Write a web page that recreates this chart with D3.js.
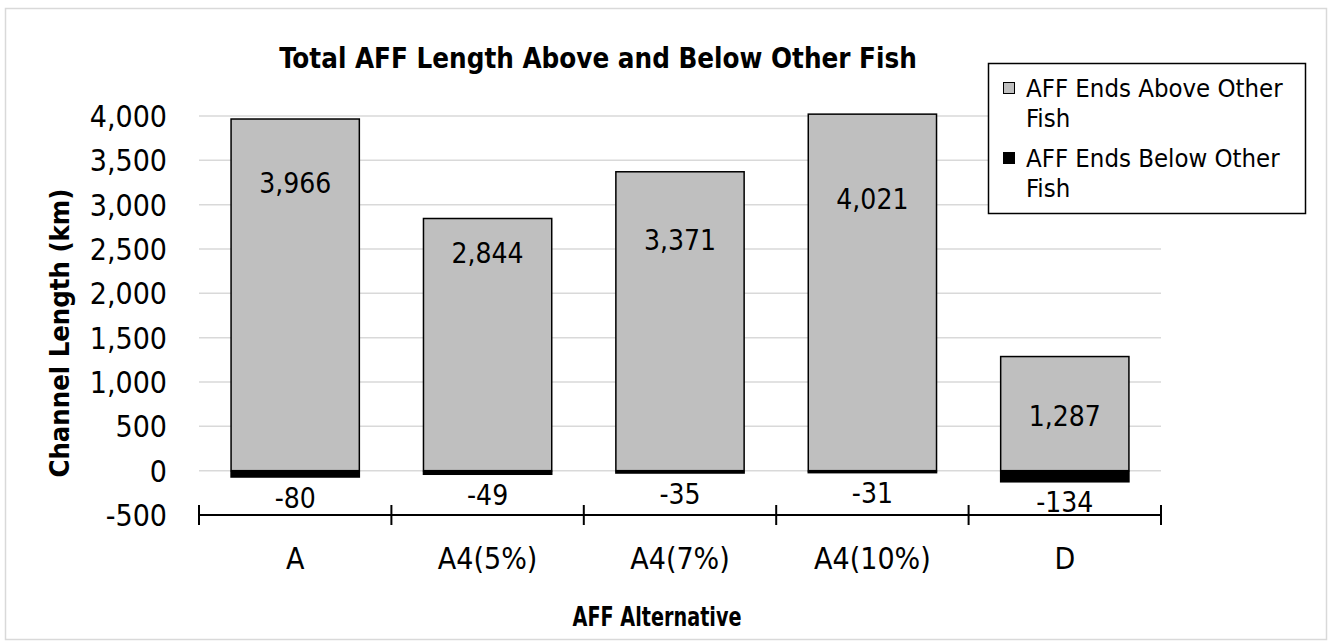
<!DOCTYPE html>
<html><head><meta charset="utf-8">
<script src="https://cdn.jsdelivr.net/npm/d3@7"></script>
<style>
body{margin:0;background:#fff}
text{font-family:"DejaVu Sans Condensed","DejaVu Sans",sans-serif;fill:#000}
</style></head>
<body><svg id="c" width="1329" height="642"></svg>
<script>
const categories = ["A", "A4(5%)", "A4(7%)", "A4(10%)", "D"];
const aboveValues = [3966, 2844, 3371, 4021, 1287];
const belowValues = [-80, -49, -35, -31, -134];
// where each positive data label sits, in axis units
const aboveLabelAt = [3240, 2450, 2600, 3060, 610];
const yTicks = [-500, 0, 500, 1000, 1500, 2000, 2500, 3000, 3500, 4000];
const seriesNames = ["AFF Ends Above Other Fish", "AFF Ends Below Other Fish"];
const titleText = "Total AFF Length Above and Below Other Fish";
const yTitle = "Channel Length (km)";
const xTitle = "AFF Alternative";

const svg = d3.select("#c");
const loc = d3.formatLocale({decimal: ".", thousands: ",", grouping: [3], currency: ["", ""], minus: "-"});
const fmt = loc.format(",");

svg.append("rect").attr("x", 5.5).attr("y", 8.5).attr("width", 1321).attr("height", 631)
  .attr("fill", "#fff").attr("stroke", "#d9d9d9").attr("stroke-width", 1.5);

const x = d3.scaleBand().domain(categories).range([199, 1161]).paddingInner(1/3).paddingOuter(1/6);
const y = d3.scaleLinear().domain([-500, 4000]).range([515, 116]);

// gridlines
svg.append("g").selectAll("line").data(yTicks.filter(t => t > -500)).join("line")
  .attr("x1", 199).attr("x2", 1161).attr("y1", d => y(d)).attr("y2", d => y(d))
  .attr("stroke", "#d9d9d9").attr("stroke-width", 1.5);

// y axis (labels only)
const yAxis = d3.axisLeft(y).tickValues(yTicks).tickFormat(fmt).tickSize(0).tickPadding(0);
const yg = svg.append("g").attr("transform", "translate(167,0)").call(yAxis);
yg.select(".domain").remove();
yg.selectAll("text").attr("font-size", 30).attr("font-family", null).attr("dy", "0.35em");

// bars above
svg.append("g").selectAll("rect").data(categories).join("rect")
  .attr("x", d => x(d)).attr("width", x.bandwidth())
  .attr("y", (d, i) => y(aboveValues[i])).attr("height", (d, i) => y(0) - y(aboveValues[i]))
  .attr("fill", "#bfbfbf").attr("stroke", "#000").attr("stroke-width", 1.5);
// bars below
svg.append("g").selectAll("rect").data(categories).join("rect")
  .attr("x", d => x(d) - 0.75).attr("width", x.bandwidth() + 1.5)
  .attr("y", y(0)).attr("height", (d, i) => y(belowValues[i]) - y(0))
  .attr("fill", "#000");

// data labels
svg.append("g").selectAll("text").data(categories).join("text")
  .attr("x", d => x(d) + x.bandwidth() / 2).attr("y", (d, i) => y(aboveLabelAt[i]))
  .attr("dy", "0.35em").attr("text-anchor", "middle").attr("font-size", 28)
  .text((d, i) => fmt(aboveValues[i]));
svg.append("g").selectAll("text").data(categories).join("text")
  .attr("x", d => x(d) + x.bandwidth() / 2).attr("y", (d, i) => y(belowValues[i]) + 20)
  .attr("dy", "0.35em").attr("text-anchor", "middle").attr("font-size", 28)
  .text((d, i) => fmt(belowValues[i]));

// x axis
const xAxis = d3.axisBottom(x).tickSize(0).tickPadding(0);
const xg = svg.append("g").attr("transform", `translate(0,${y(-500)})`).call(xAxis);
xg.select(".domain").attr("stroke", "#000").attr("stroke-width", 2).attr("d", "M199,0H1161");
xg.selectAll("text").attr("font-size", 30).attr("font-family", null).attr("y", 43).attr("dy", "0.35em");
const bounds = categories.map(c => x(c) - x.step() * x.paddingInner() / 2);
bounds.push(1161);
xg.append("g").selectAll("line").data(bounds).join("line")
  .attr("x1", d => d).attr("x2", d => d).attr("y1", -10).attr("y2", 10)
  .attr("stroke", "#000").attr("stroke-width", 2);

// titles
svg.append("text").attr("x", 598).attr("y", 58).attr("dy", "0.35em").attr("text-anchor", "middle")
  .attr("font-size", 27.5).attr("font-weight", "bold").text(titleText);
svg.append("text").attr("transform", "translate(60,333) rotate(-90)").attr("dy", "0.35em")
  .attr("text-anchor", "middle").attr("font-size", 27).attr("font-weight", "bold")
  .attr("textLength", 289).attr("lengthAdjust", "spacingAndGlyphs").text(yTitle);
svg.append("text").attr("x", 657).attr("y", 617).attr("dy", "0.35em").attr("text-anchor", "middle")
  .attr("font-size", 26).attr("font-weight", "bold")
  .attr("textLength", 169).attr("lengthAdjust", "spacingAndGlyphs").text(xTitle);

// legend
const lg = svg.append("g");
lg.append("rect").attr("x", 988.5).attr("y", 63.5).attr("width", 317).attr("height", 150)
  .attr("fill", "#fff").attr("stroke", "#000").attr("stroke-width", 1.5);
const legendColors = ["#bfbfbf", "#000"];
seriesNames.forEach((name, i) => {
  const cy = 88 + i * 70;
  lg.append("rect").attr("x", 1003.5).attr("y", cy - 5.5).attr("width", 11).attr("height", 11)
    .attr("fill", legendColors[i]).attr("stroke", "#000").attr("stroke-width", 1);
  const words = name.split(" ");
  const t = lg.append("text").attr("font-size", 25.5);
  t.append("tspan").attr("x", 1026).attr("y", cy).attr("dy", "0.35em").text(words.slice(0, 4).join(" "));
  t.append("tspan").attr("x", 1026).attr("y", cy + 30).attr("dy", "0.35em").text(words.slice(4).join(" "));
});
</script></body></html>
